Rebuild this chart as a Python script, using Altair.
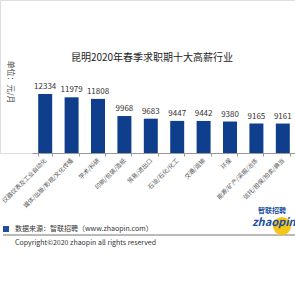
import altair as alt
import pandas as pd

industries = ["仪器仪表及工业自动化", "媒体/出版/影视/文化传播", "学术/科研", "印刷/包装/造纸",
              "贸易/进出口", "石油/石化/化工", "交通/运输", "环保",
              "能源/矿产/采掘/冶炼", "信托/担保/拍卖/典当"]
salaries = [12334, 11979, 11808, 9968, 9683, 9447, 9442, 9380, 9165, 9161]

df = pd.DataFrame({"industry": industries, "salary": salaries})
one = pd.DataFrame({"k": [0]})

FONT = "Noto Sans CJK SC"
BLUE = "#0F3F8C"

x = alt.X("industry:N", sort=None,
          scale=alt.Scale(range=[32, 296], paddingInner=0.47, paddingOuter=0.235),
          axis=alt.Axis(title=None, labelAngle=315, labelAlign="right", labelBaseline="middle",
                        labelFont=FONT, labelFontSize=6, labelColor="#555",
                        labelPadding=3, tickBand="extent", tickSize=3,
                        domainColor="#999", tickColor="#999", labelLimit=200))
y = alt.Y("salary:Q", scale=alt.Scale(domain=[6000, 22425], nice=False, zero=False), axis=None)

bars = alt.Chart(df).mark_bar(color=BLUE).encode(x=x, y=y, y2=alt.datum(6000))
vals = alt.Chart(df).mark_text(font=FONT, fontSize=8, color="#333", baseline="bottom", dy=-3).encode(
    x=alt.X("industry:N", sort=None), y="salary:Q", text="salary:Q")

def txt(t, xv, yv, size, color="#333", align="left", **kw):
    return alt.Chart(one).mark_text(text=t, font=FONT, fontSize=size, color=color,
                                    align=align, baseline="middle", **kw).encode(
        x=alt.value(xv), y=alt.value(yv))

title = txt("昆明2020年春季求职期十大高薪行业", 152, 58, 10, color="#222", align="center")
unit = txt("单位：元/月", 10, 82, 8, color="#444", align="center", angle=90)
square = alt.Chart(one).mark_square(color="#1F4E9E", size=36, opacity=1).encode(
    x=alt.value(6), y=alt.value(229))
src = txt("数据来源：智联招聘（www.zhaopin.com）", 15, 229, 7, color="#333")
line = alt.Chart(one).mark_rule(color="#777", strokeWidth=1.2).encode(
    x=alt.value(3), x2=alt.value(295), y=alt.value(235))
copy = txt("Copyright©2020 zhaopin all rights reserved", 15, 243, 7, color="#333")
circle = alt.Chart(one).mark_circle(color="#F5C518", size=330, opacity=1).encode(
    x=alt.value(282), y=alt.value(226))
logo = txt("zhaopin.c", 252, 223, 11, color="#1A4FA0", fontWeight="bold", fontStyle="italic")
logo2 = txt("智联招聘", 258, 211, 7, color="#1A4FA0", fontWeight="bold")

chart = alt.layer(bars, vals, title, unit, square, src, line, copy, circle, logo2, logo).properties(
    width=295, height=153, autosize=alt.AutoSizeParams(type="none"),
    padding={"left": 0, "top": 0, "right": 0, "bottom": 142}
).configure_view(stroke=None).configure(background="white")

chart.save("out.html", embed_options={"renderer": "svg", "actions": False})
